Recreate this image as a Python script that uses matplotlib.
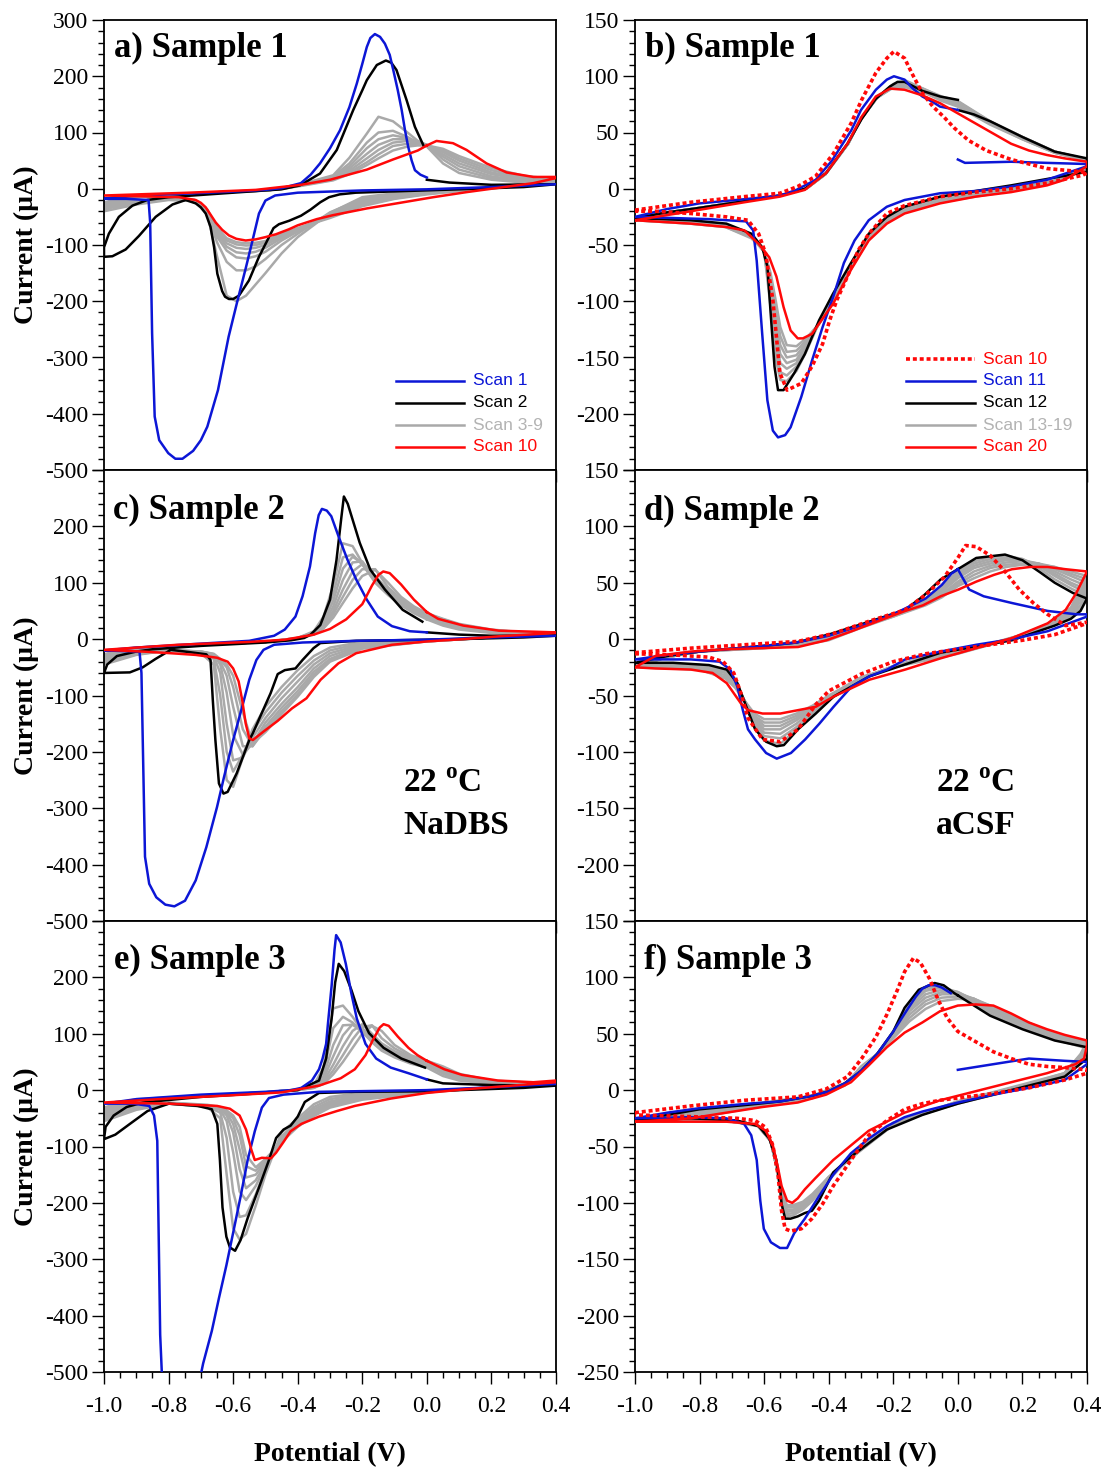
import matplotlib
matplotlib.use('Agg')
import matplotlib.pyplot as plt
from matplotlib.ticker import MultipleLocator, FuncFormatter

plt.rcParams['font.family'] = ['Liberation Serif', 'DejaVu Serif']
plt.rcParams['axes.unicode_minus'] = False
plt.rcParams['mathtext.fontset'] = 'custom'
plt.rcParams['mathtext.rm'] = 'Liberation Serif'
plt.rcParams['mathtext.bf'] = 'Liberation Serif:bold'

BLUE = '#0c16d6'
RED = '#ff0808'
BLACK = '#000000'
GRAY = '#a9a9a9'

# ---------------- Panel a (Sample 1, NaDBS) ----------------
A_S1 = [(0.4, 8), (0.2, 3), (0.0, -1), (-0.2, -3), (-0.4, -7), (-0.47, -12), (-0.5, -21), (-0.52, -44),
        (-0.54, -92), (-0.56, -139), (-0.587, -200), (-0.614, -263), (-0.647, -358), (-0.68, -423),
        (-0.70, -447), (-0.724, -466), (-0.757, -480), (-0.779, -480), (-0.801, -470), (-0.829, -447),
        (-0.843, -405), (-0.851, -257), (-0.857, -60), (-0.862, -20), (-0.93, -18), (-1.0, -18),
        (-0.95, -14), (-0.8, -10), (-0.6, -5), (-0.5, -2), (-0.45, 1), (-0.39, 10), (-0.36, 25),
        (-0.331, 45), (-0.30, 72), (-0.269, 104), (-0.24, 145), (-0.217, 187), (-0.20, 222),
        (-0.186, 252), (-0.175, 268), (-0.161, 275), (-0.145, 270), (-0.130, 258), (-0.115, 238),
        (-0.104, 211), (-0.09, 175), (-0.078, 140), (-0.068, 105), (-0.058, 75), (-0.047, 50),
        (-0.037, 33), (-0.02, 25), (0.0, 20)]
A_S2 = [(0.0, 16), (0.07, 11), (0.2, 7), (0.4, 8), (0.3, 3), (0.1, -1), (-0.117, -5), (-0.22, -7),
        (-0.27, -10), (-0.303, -15), (-0.33, -24), (-0.36, -37), (-0.39, -48), (-0.427, -57),
        (-0.458, -63), (-0.475, -70), (-0.489, -86), (-0.52, -121), (-0.551, -163), (-0.582, -190),
        (-0.60, -196), (-0.613, -196), (-0.625, -192), (-0.634, -182), (-0.649, -151), (-0.659, -104),
        (-0.67, -68), (-0.685, -44), (-0.70, -33), (-0.716, -26), (-0.747, -20), (-0.788, -28),
        (-0.84, -50), (-0.892, -84), (-0.933, -108), (-0.974, -120), (-1.0, -121), (-1.0, -104),
        (-0.985, -80), (-0.954, -50), (-0.912, -30), (-0.866, -20), (-0.8, -15), (-0.6, -7),
        (-0.45, -1), (-0.393, 6), (-0.331, 27), (-0.279, 69), (-0.228, 140), (-0.2, 175),
        (-0.186, 193), (-0.155, 220), (-0.127, 228), (-0.11, 224), (-0.094, 211), (-0.063, 158),
        (-0.037, 110), (-0.009, 75)]
A_S10 = [(0.0, 77), (0.03, 85), (0.081, 81), (0.123, 69), (0.185, 45), (0.247, 29), (0.33, 21),
         (0.4, 21), (0.4, 19), (0.33, 10), (0.226, 2), (0.123, -6), (0.02, -15), (-0.083, -25),
         (-0.186, -35), (-0.291, -47), (-0.341, -54), (-0.4, -65), (-0.427, -72), (-0.468, -81),
         (-0.5, -86), (-0.53, -90), (-0.561, -92), (-0.59, -89), (-0.613, -83), (-0.634, -73),
         (-0.654, -60), (-0.67, -46), (-0.685, -33), (-0.70, -25), (-0.716, -20), (-0.768, -15),
         (-0.84, -14), (-1.0, -12), (-0.737, -7), (-0.53, -2), (-0.468, 2), (-0.39, 7), (-0.3, 16),
         (-0.186, 34), (-0.105, 52), (-0.028, 68), (0.0, 77)]
A_GRAY_TAIL_X = [0.0, 0.05, 0.1, 0.2, 0.3, 0.4]
A_GRAY_TAIL_Y = [[75, 45, 28, 16, 11, 10], [78, 52, 34, 19, 13, 11], [77, 57, 40, 22, 14, 12],
                 [77, 61, 45, 26, 16, 13], [77, 65, 50, 29, 18, 14], [77, 68, 54, 33, 20, 15],
                 [77, 71, 58, 37, 23, 17]]
A_GRAY_LO_X = [0.4, 0.2, 0.0, -0.1, -0.2, -0.3, -0.4, -0.45, -0.5, -0.53, -0.56, -0.59, -0.62,
               -0.65, -0.68, -0.72, -0.8, -0.9, -1.0]
A_GRAY_LO_Y = [[9, 2, -4, -8, -15, -43, -86, -115, -150, -170, -190, -200, -190, -120, -45, -22, -20, -28, -40],
               [10, 2, -5, -10, -18, -42, -80, -100, -125, -138, -145, -145, -130, -95, -45, -22, -19, -26, -36],
               [11, 2, -6, -12, -21, -44, -76, -92, -112, -120, -124, -122, -110, -85, -42, -21, -18, -25, -33],
               [12, 2, -7, -14, -24, -46, -74, -88, -105, -112, -115, -113, -103, -80, -40, -21, -18, -24, -30],
               [13, 2, -8, -16, -27, -48, -72, -85, -100, -105, -107, -105, -97, -76, -39, -20, -17, -23, -28],
               [14, 2, -9, -17, -29, -50, -71, -82, -96, -100, -101, -99, -92, -72, -38, -20, -17, -22, -26],
               [15, 2, -10, -18, -31, -52, -70, -80, -93, -96, -97, -95, -88, -69, -37, -20, -17, -21, -25]]
A_GRAY_UP_X = [-1.0, -0.95, -0.9, -0.7, -0.5, -0.45, -0.39, -0.29, -0.24, -0.186, -0.15, -0.105,
               -0.06, -0.028, 0.0]
A_GRAY_UP_Y = [[-40, -22, -15, -8, -3, 0, 8, 24, 55, 98, 128, 120, 100, 85, 78],
               [-36, -21, -15, -8, -3, 0, 8, 22, 45, 82, 100, 103, 92, 82, 77],
               [-33, -20, -14, -8, -3, 0, 7, 20, 40, 72, 88, 95, 90, 82, 77],
               [-30, -19, -14, -8, -3, 0, 7, 19, 36, 62, 78, 88, 88, 81, 77],
               [-28, -18, -14, -8, -3, 0, 6, 17, 32, 54, 69, 82, 85, 80, 77],
               [-26, -17, -13, -8, -3, 0, 6, 16, 29, 47, 61, 76, 80, 79, 77],
               [-25, -16, -13, -8, -3, 0, 5, 15, 26, 42, 54, 68, 75, 77, 77]]

# ---------------- Panel c (Sample 2, NaDBS) ----------------
C_S1 = [(0.4, 6), (0.2, 3), (0.0, -1), (-0.218, -3), (-0.385, -6), (-0.473, -10), (-0.506, -19),
        (-0.528, -37), (-0.55, -72), (-0.572, -120), (-0.6, -179), (-0.628, -244), (-0.65, -298),
        (-0.683, -369), (-0.716, -428), (-0.749, -464), (-0.782, -474), (-0.81, -471), (-0.838, -458),
        (-0.86, -434), (-0.873, -386), (-0.878, -238), (-0.884, -60), (-0.89, -22), (-0.95, -21),
        (-1.0, -20), (-0.9, -15), (-0.7, -8), (-0.55, -3), (-0.473, 6), (-0.44, 17), (-0.407, 40),
        (-0.385, 76), (-0.362, 129), (-0.346, 188), (-0.335, 220), (-0.325, 231), (-0.31, 228),
        (-0.296, 218), (-0.274, 183), (-0.246, 141), (-0.219, 106), (-0.186, 70), (-0.152, 40),
        (-0.108, 23), (-0.053, 14), (0.0, 12)]
C_S2 = [(0.0, 12), (0.1, 8), (0.2, 6), (0.4, 6), (0.3, 3), (0.1, 0), (-0.1, -2), (-0.219, -3),
        (-0.33, -7), (-0.351, -16), (-0.385, -37), (-0.407, -52), (-0.44, -55), (-0.462, -62),
        (-0.484, -96), (-0.512, -132), (-0.539, -167), (-0.55, -179), (-0.589, -238), (-0.617, -271),
        (-0.63, -274), (-0.644, -256), (-0.655, -179), (-0.663, -108), (-0.67, -37), (-0.683, -27),
        (-0.749, -22), (-0.793, -19), (-0.84, -35), (-0.88, -50), (-0.92, -59), (-1.0, -60),
        (-0.99, -45), (-0.96, -30), (-0.9, -22), (-0.85, -18), (-0.7, -12), (-0.5, -6), (-0.42, -2),
        (-0.38, 2), (-0.36, 8), (-0.33, 25), (-0.30, 70), (-0.28, 140), (-0.265, 215), (-0.257, 253),
        (-0.245, 240), (-0.23, 212), (-0.208, 171), (-0.175, 123), (-0.13, 88), (-0.075, 52),
        (-0.014, 31)]
C_S10 = [(0.0, 48), (0.035, 36), (0.113, 24), (0.223, 15), (0.4, 12), (0.4, 11), (0.223, 5),
         (0.113, 0), (0.003, -4), (-0.108, -10), (-0.219, -25), (-0.274, -43), (-0.329, -72),
         (-0.373, -105), (-0.418, -123), (-0.462, -145), (-0.506, -164), (-0.539, -179), (-0.55, -176),
         (-0.561, -150), (-0.572, -108), (-0.583, -75), (-0.6, -52), (-0.617, -40), (-0.65, -33),
         (-0.716, -28), (-0.793, -25), (-0.882, -22), (-1.0, -19), (-0.771, -10), (-0.55, -5),
         (-0.44, -1), (-0.35, 8), (-0.3, 18), (-0.25, 35), (-0.2, 62), (-0.17, 95), (-0.15, 114),
         (-0.135, 120), (-0.115, 117), (-0.08, 97), (-0.04, 70), (0.0, 48)]
C_GRAY_TAIL_X = [0.0, 0.05, 0.1, 0.2, 0.3, 0.4]
C_GRAY_TAIL_Y = [[35, 24, 17, 11, 8, 7], [38, 27, 19, 12, 9, 8], [40, 29, 21, 13, 10, 9],
                 [42, 31, 23, 14, 10, 9], [44, 33, 25, 15, 11, 10], [45, 35, 26, 16, 12, 10],
                 [46, 36, 27, 17, 12, 11]]
C_GRAY_LO_X = [0.4, 0.2, 0.0, -0.2, -0.3, -0.35, -0.4, -0.45, -0.5, -0.54, -0.57, -0.6, -0.62,
               -0.64, -0.66, -0.7, -0.8, -0.9, -1.0]
C_GRAY_LO_Y = [[7, 3, -2, -5, -15, -30, -55, -85, -120, -160, -210, -262, -250, -160, -45, -25, -20, -28, -45],
               [8, 3, -3, -7, -20, -38, -65, -95, -130, -165, -205, -235, -200, -100, -35, -24, -20, -27, -42],
               [8, 3, -3, -9, -25, -45, -75, -105, -140, -175, -210, -215, -150, -60, -30, -23, -20, -26, -39],
               [9, 3, -4, -11, -30, -52, -85, -115, -148, -185, -205, -170, -95, -45, -28, -23, -20, -25, -36],
               [9, 3, -4, -13, -35, -58, -92, -122, -155, -190, -190, -120, -65, -40, -27, -22, -20, -24, -33],
               [10, 3, -4, -15, -38, -63, -98, -128, -160, -190, -160, -85, -50, -37, -27, -22, -20, -23, -30],
               [10, 3, -4, -17, -40, -67, -102, -133, -165, -185, -130, -65, -45, -35, -26, -22, -19, -22, -27]]
C_GRAY_UP_X = [-1.0, -0.95, -0.9, -0.7, -0.5, -0.4, -0.35, -0.32, -0.29, -0.26, -0.23, -0.2, -0.16,
               -0.12, -0.08, -0.04, 0.0]
C_GRAY_UP_Y = [[-45, -25, -18, -10, -5, 2, 14, 40, 95, 170, 165, 135, 100, 78, 60, 46, 35],
               [-42, -24, -17, -10, -5, 2, 12, 35, 80, 145, 150, 132, 102, 80, 62, 48, 38],
               [-39, -23, -17, -10, -5, 2, 11, 30, 68, 125, 146, 135, 105, 82, 64, 50, 40],
               [-36, -22, -16, -10, -5, 1, 10, 26, 58, 105, 136, 138, 108, 84, 66, 52, 42],
               [-33, -21, -16, -10, -5, 1, 9, 23, 50, 88, 120, 133, 112, 87, 68, 54, 44],
               [-30, -20, -15, -10, -5, 1, 9, 21, 44, 75, 105, 124, 124, 92, 71, 56, 45],
               [-27, -19, -15, -10, -5, 1, 8, 19, 38, 64, 90, 112, 123, 100, 75, 58, 46]]

# ---------------- Panel e (Sample 3, NaDBS) ----------------
E_S1 = [(0.4, 11), (0.2, 5), (0.0, 0), (-0.334, -3), (-0.444, -8), (-0.489, -14), (-0.511, -31),
        (-0.533, -73), (-0.555, -124), (-0.577, -189), (-0.6, -253), (-0.621, -311), (-0.644, -369),
        (-0.666, -427), (-0.693, -485), (-0.72, -560), (-0.77, -620), (-0.815, -560), (-0.821, -500),
        (-0.826, -434), (-0.835, -90), (-0.845, -45), (-0.86, -28), (-0.909, -24), (-1.0, -24),
        (-0.9, -16), (-0.7, -8), (-0.5, -3), (-0.42, 0), (-0.389, 4), (-0.356, 17), (-0.334, 37),
        (-0.323, 56), (-0.312, 82), (-0.306, 120), (-0.295, 185), (-0.286, 249), (-0.281, 275),
        (-0.267, 262), (-0.251, 224), (-0.234, 172), (-0.217, 127), (-0.19, 82), (-0.157, 56),
        (-0.112, 40), (-0.057, 30), (0.0, 19)]
E_S2 = [(0.0, 19), (0.05, 12), (0.2, 9), (0.4, 8), (0.3, 4), (0.0, -2), (-0.223, -3), (-0.334, -5),
        (-0.378, -21), (-0.4, -47), (-0.422, -63), (-0.444, -70), (-0.467, -85), (-0.489, -124),
        (-0.522, -176), (-0.555, -227), (-0.577, -266), (-0.594, -285), (-0.61, -279), (-0.621, -260),
        (-0.633, -208), (-0.641, -124), (-0.649, -60), (-0.666, -34), (-0.71, -28), (-0.799, -24),
        (-0.865, -37), (-0.92, -60), (-0.965, -79), (-1.0, -87), (-0.995, -65), (-0.97, -45),
        (-0.93, -30), (-0.88, -22), (-0.7, -12), (-0.5, -5), (-0.4, 0), (-0.334, 17), (-0.312, 56),
        (-0.295, 127), (-0.284, 191), (-0.273, 224), (-0.256, 211), (-0.234, 178), (-0.212, 140),
        (-0.179, 101), (-0.134, 75), (-0.079, 56), (-0.006, 40)]
E_S10 = [(0.0, 52), (0.054, 37), (0.109, 27), (0.22, 17), (0.33, 14), (0.4, 17), (0.4, 14),
         (0.22, 6), (0.109, 1), (0.0, -5), (-0.112, -15), (-0.223, -28), (-0.278, -37), (-0.334, -47),
         (-0.389, -60), (-0.422, -73), (-0.444, -92), (-0.467, -111), (-0.483, -121), (-0.511, -120),
         (-0.533, -124), (-0.544, -105), (-0.56, -70), (-0.58, -45), (-0.61, -33), (-0.65, -28),
         (-0.8, -24), (-1.0, -22), (-0.8, -15), (-0.6, -9), (-0.45, -4), (-0.334, 8), (-0.267, 21),
         (-0.223, 37), (-0.19, 62), (-0.168, 88), (-0.146, 111), (-0.134, 117), (-0.118, 114),
         (-0.09, 95), (-0.057, 75), (-0.029, 62), (0.0, 52)]
E_GRAY_TAIL_X = [0.0, 0.05, 0.1, 0.2, 0.3, 0.4]
E_GRAY_TAIL_Y = [[40, 25, 17, 11, 9, 9], [44, 29, 19, 12, 10, 10], [47, 32, 21, 13, 11, 10],
                 [49, 35, 23, 14, 12, 11], [51, 38, 25, 15, 12, 11], [52, 40, 27, 16, 13, 12],
                 [52, 42, 29, 17, 14, 13]]
E_GRAY_LO_X = [0.4, 0.2, 0.0, -0.2, -0.3, -0.35, -0.4, -0.45, -0.5, -0.53, -0.56, -0.58, -0.6,
               -0.62, -0.64, -0.68, -0.8, -0.9, -1.0]
E_GRAY_LO_Y = [[9, 5, -2, -5, -12, -25, -50, -75, -150, -205, -255, -265, -245, -150, -50, -30, -24, -35, -55],
               [10, 5, -2, -7, -16, -30, -55, -82, -140, -185, -222, -225, -180, -85, -40, -29, -24, -33, -50],
               [10, 5, -3, -9, -20, -34, -58, -86, -135, -170, -195, -180, -110, -55, -35, -28, -23, -31, -45],
               [11, 5, -3, -11, -23, -38, -61, -88, -130, -160, -174, -140, -75, -45, -33, -28, -23, -29, -41],
               [11, 5, -3, -13, -26, -41, -63, -90, -128, -150, -155, -105, -60, -40, -32, -27, -23, -28, -37],
               [12, 5, -4, -15, -29, -44, -64, -91, -125, -143, -135, -80, -50, -38, -31, -27, -23, -27, -34],
               [13, 5, -4, -17, -31, -46, -65, -92, -122, -137, -115, -65, -45, -36, -30, -26, -22, -26, -31]]
E_GRAY_UP_X = [-1.0, -0.95, -0.9, -0.7, -0.5, -0.4, -0.35, -0.32, -0.29, -0.26, -0.23, -0.2, -0.17,
               -0.14, -0.1, -0.05, 0.0]
E_GRAY_UP_Y = [[-55, -30, -20, -10, -4, 1, 9, 40, 145, 150, 130, 105, 85, 70, 58, 47, 40],
               [-50, -28, -19, -10, -4, 1, 8, 32, 110, 130, 120, 103, 86, 72, 60, 50, 44],
               [-45, -26, -18, -10, -4, 1, 7, 25, 80, 115, 116, 104, 88, 75, 63, 53, 47],
               [-41, -25, -18, -10, -4, 1, 6, 20, 60, 97, 117, 110, 92, 78, 66, 55, 49],
               [-37, -24, -17, -10, -4, 1, 5, 16, 45, 78, 105, 117, 100, 83, 69, 57, 51],
               [-34, -23, -17, -10, -4, 0, 4, 13, 35, 62, 90, 112, 115, 92, 74, 59, 52],
               [-31, -22, -16, -10, -4, 0, 4, 11, 28, 50, 75, 100, 114, 105, 80, 62, 52]]

# ---------------- Panel b (Sample 1, aCSF) ----------------
B_S10 = [(-1.0, -19), (-0.827, -12), (-0.661, -7), (-0.551, -4), (-0.496, 2), (-0.441, 11),
         (-0.386, 31), (-0.331, 58), (-0.298, 79), (-0.254, 103), (-0.22, 116), (-0.198, 122),
         (-0.165, 116), (-0.143, 103), (-0.11, 85), (-0.077, 73), (-0.044, 64), (-0.011, 54),
         (0.033, 43), (0.088, 34), (0.165, 26), (0.276, 18), (0.386, 15), (0.4, 14), (0.386, 12),
         (0.276, 5), (0.165, 0), (0.055, -3), (-0.055, -7), (-0.165, -15), (-0.22, -22), (-0.276, -40),
         (-0.309, -55), (-0.342, -78), (-0.375, -99), (-0.397, -117), (-0.419, -138), (-0.452, -158),
         (-0.485, -173), (-0.529, -179), (-0.551, -164), (-0.573, -99), (-0.595, -58), (-0.617, -40),
         (-0.65, -28), (-0.717, -25), (-0.827, -22), (-0.937, -20), (-1.0, -20)]
B_S11 = [(0.0, 26), (0.022, 23), (0.165, 24), (0.276, 23), (0.397, 22), (0.4, 20), (0.276, 8),
         (0.165, 2), (0.055, -2), (-0.055, -4), (-0.165, -10), (-0.22, -16), (-0.276, -28), (-0.32, -46),
         (-0.353, -66), (-0.386, -96), (-0.419, -123), (-0.452, -153), (-0.485, -185), (-0.518, -212),
         (-0.535, -219), (-0.557, -221), (-0.573, -215), (-0.59, -188), (-0.606, -129), (-0.623, -64),
         (-0.634, -37), (-0.656, -29), (-0.772, -27), (-1.0, -25), (-0.9, -18), (-0.8, -13),
         (-0.65, -9), (-0.55, -6), (-0.5, -1), (-0.44, 8), (-0.39, 25), (-0.33, 52), (-0.3, 70),
         (-0.254, 88), (-0.22, 97), (-0.198, 100), (-0.165, 97), (-0.143, 90), (-0.11, 82),
         (-0.077, 77), (-0.055, 73), (0.0, 70)]
B_S12 = [(0.0, 70), (0.05, 66), (0.1, 60), (0.2, 46), (0.3, 33), (0.4, 27), (0.4, 15), (0.165, 3),
         (-0.055, -7), (-0.165, -16), (-0.22, -25), (-0.276, -40), (-0.331, -66), (-0.386, -93),
         (-0.43, -117), (-0.474, -147), (-0.507, -164), (-0.54, -179), (-0.557, -179), (-0.568, -158),
         (-0.579, -114), (-0.59, -69), (-0.606, -52), (-0.639, -40), (-0.717, -31), (-0.827, -28),
         (-1.0, -26), (-0.9, -21), (-0.8, -17), (-0.661, -11), (-0.551, -6), (-0.474, 0), (-0.408, 14),
         (-0.342, 40), (-0.298, 62), (-0.254, 80), (-0.21, 91), (-0.187, 95), (-0.165, 95),
         (-0.11, 87), (-0.055, 82), (0.0, 79)]
B_S20 = [(-1.0, -28), (-0.827, -20), (-0.661, -12), (-0.551, -7), (-0.474, -1), (-0.408, 14),
         (-0.342, 40), (-0.298, 64), (-0.254, 82), (-0.21, 89), (-0.165, 88), (-0.11, 83),
         (-0.055, 76), (0.0, 67), (0.055, 58), (0.11, 49), (0.165, 40), (0.22, 34), (0.276, 30),
         (0.331, 27), (0.4, 24), (0.4, 20), (0.331, 8), (0.276, 3), (0.165, -3), (0.055, -7),
         (-0.055, -13), (-0.165, -22), (-0.22, -31), (-0.276, -46), (-0.331, -72), (-0.386, -102),
         (-0.43, -120), (-0.452, -129), (-0.48, -133), (-0.496, -133), (-0.518, -126), (-0.54, -105),
         (-0.562, -78), (-0.584, -61), (-0.617, -49), (-0.661, -37), (-0.717, -34), (-0.827, -31),
         (-1.0, -28)]
B_GRAY_UP_X = [-1.0, -0.9, -0.8, -0.66, -0.55, -0.47, -0.41, -0.34, -0.3, -0.25, -0.2, -0.16, -0.1,
               -0.05, 0.0, 0.1, 0.2, 0.3, 0.4]
B_GRAY_UP_Y = [[-27, -21, -17, -11, -6, 0, 13, 40, 62, 81, 93, 96, 88, 82, 78, 60, 46, 33, 26],
               [-27, -21, -17, -11, -6, 0, 13, 40, 62, 81, 93, 95, 88, 81, 77, 60, 46, 33, 26],
               [-27, -21, -17, -11, -6, 0, 13, 40, 62, 81, 92, 94, 87, 81, 77, 59, 46, 33, 26],
               [-27, -21, -17, -11, -6, 0, 13, 40, 62, 81, 92, 93, 87, 80, 76, 59, 45, 33, 26],
               [-28, -21, -17, -11, -6, 0, 13, 40, 62, 81, 91, 92, 86, 80, 75, 58, 45, 32, 25],
               [-28, -21, -18, -11, -6, 0, 13, 40, 63, 81, 90, 91, 85, 79, 74, 58, 44, 32, 25],
               [-28, -21, -18, -11, -6, 0, 13, 40, 63, 81, 90, 90, 85, 78, 73, 57, 44, 32, 25]]
B_GRAY_LO_X = [0.4, 0.3, 0.165, -0.055, -0.165, -0.22, -0.276, -0.331, -0.386, -0.43, -0.47, -0.5,
               -0.53, -0.55, -0.565, -0.58, -0.6, -0.64, -0.72, -0.83, -1.0]
B_GRAY_LO_Y = [[17, 7, 2, -8, -17, -27, -42, -68, -96, -119, -145, -162, -171, -170, -150, -105, -56, -41, -32, -29, -27],
               [17, 7, 1, -9, -18, -28, -43, -69, -97, -119, -143, -158, -166, -163, -140, -98, -56, -41, -32, -29, -27],
               [18, 7, 1, -10, -19, -28, -43, -69, -98, -119, -141, -155, -160, -155, -130, -92, -56, -42, -33, -30, -27],
               [18, 7, 0, -10, -19, -29, -44, -70, -99, -120, -139, -152, -155, -147, -122, -88, -56, -42, -33, -30, -28],
               [19, 7, 0, -11, -20, -29, -44, -70, -100, -120, -137, -148, -150, -139, -114, -84, -55, -43, -33, -30, -28],
               [19, 6, -1, -12, -21, -30, -45, -71, -101, -120, -135, -144, -145, -131, -106, -79, -55, -43, -34, -31, -28],
               [20, 6, -2, -12, -21, -30, -45, -71, -101, -120, -133, -140, -139, -123, -98, -75, -55, -44, -34, -31, -28]]

# ---------------- Panel d (Sample 2, aCSF) ----------------
D_S10 = [(-1.0, -12), (-0.827, -8), (-0.661, -5), (-0.495, -2), (-0.385, 5), (-0.274, 16),
         (-0.163, 26), (-0.097, 40), (-0.042, 55), (0.0, 72), (0.024, 83), (0.057, 82), (0.101, 74),
         (0.146, 60), (0.19, 44), (0.234, 32), (0.278, 22), (0.334, 12), (0.4, 15), (0.4, 14),
         (0.3, 4), (0.2, -1), (0.1, -5), (0.0, -9), (-0.1, -13), (-0.2, -20), (-0.3, -31), (-0.4, -46),
         (-0.44, -58), (-0.495, -80), (-0.55, -91), (-0.605, -89), (-0.65, -70), (-0.672, -48),
         (-0.694, -30), (-0.727, -20), (-0.771, -16), (-0.882, -14), (-1.0, -13)]
D_S11 = [(0.0, 62), (0.035, 44), (0.08, 38), (0.168, 32), (0.278, 25), (0.367, 22), (0.4, 22),
         (0.4, 20), (0.278, 7), (0.168, 0), (0.057, -5), (-0.053, -11), (-0.163, -18), (-0.219, -27),
         (-0.274, -33), (-0.329, -42), (-0.385, -60), (-0.429, -75), (-0.473, -89), (-0.517, -101),
         (-0.561, -106), (-0.594, -101), (-0.628, -89), (-0.65, -80), (-0.666, -63), (-0.683, -42),
         (-0.705, -27), (-0.738, -20), (-0.827, -18), (-1.0, -18), (-0.9, -14), (-0.8, -11),
         (-0.6, -6), (-0.5, -3), (-0.4, 3), (-0.3, 12), (-0.2, 22), (-0.1, 36), (-0.05, 48),
         (-0.02, 58), (0.0, 62)]
D_S12 = [(0.0, 62), (0.057, 72), (0.146, 75), (0.2, 70), (0.256, 59), (0.3, 50), (0.356, 41),
         (0.4, 36), (0.38, 25), (0.35, 18), (0.3, 12), (0.168, -1), (-0.053, -12), (-0.274, -33),
         (-0.385, -51), (-0.44, -66), (-0.495, -80), (-0.539, -94), (-0.561, -95), (-0.594, -91),
         (-0.628, -80), (-0.655, -60), (-0.683, -39), (-0.716, -27), (-0.771, -23), (-0.882, -21),
         (-1.0, -21), (-0.9, -15), (-0.8, -11), (-0.6, -6), (-0.5, -3), (-0.4, 4), (-0.3, 13),
         (-0.163, 26), (-0.108, 38), (-0.053, 53), (0.0, 62)]
D_S20 = [(-1.0, -25), (-0.937, -15), (-0.827, -11), (-0.716, -9), (-0.605, -8), (-0.495, -7),
         (-0.407, -1), (-0.329, 7), (-0.274, 13), (-0.219, 19), (-0.163, 25), (-0.108, 30),
         (-0.053, 38), (0.002, 44), (0.057, 51), (0.112, 57), (0.168, 62), (0.223, 64), (0.278, 64),
         (0.334, 62), (0.4, 60), (0.367, 41), (0.334, 26), (0.278, 14), (0.168, 1), (0.057, -8),
         (-0.053, -17), (-0.163, -27), (-0.274, -36), (-0.385, -51), (-0.44, -60), (-0.495, -63),
         (-0.55, -66), (-0.605, -66), (-0.65, -63), (-0.672, -57), (-0.694, -48), (-0.716, -39),
         (-0.76, -30), (-0.827, -27), (-0.937, -26), (-1.0, -25)]
D_GRAY_UP_X = [-1.0, -0.9, -0.8, -0.6, -0.5, -0.4, -0.3, -0.2, -0.1, -0.05, 0.0, 0.05, 0.1, 0.15,
               0.2, 0.25, 0.3, 0.35, 0.4]
D_GRAY_UP_Y = [[-22, -15, -11, -6, -3, 4, 13, 22, 35, 47, 60, 69, 73, 74, 71, 63, 53, 45, 38],
               [-22, -15, -11, -6, -3, 3, 13, 22, 34, 46, 58, 67, 71, 72, 71, 65, 56, 48, 41],
               [-23, -15, -11, -7, -4, 3, 12, 21, 33, 44, 56, 65, 69, 71, 70, 66, 58, 50, 44],
               [-23, -16, -11, -7, -4, 2, 12, 21, 32, 42, 54, 63, 67, 70, 70, 67, 60, 53, 47],
               [-24, -16, -11, -7, -5, 1, 11, 21, 31, 40, 51, 60, 65, 68, 69, 67, 62, 56, 50],
               [-24, -16, -11, -8, -5, 0, 11, 20, 31, 39, 49, 57, 63, 66, 67, 67, 64, 58, 53],
               [-25, -16, -11, -8, -6, -1, 10, 20, 30, 37, 47, 54, 60, 64, 66, 66, 64, 60, 56]]
D_GRAY_LO_X = [0.4, 0.38, 0.35, 0.3, 0.2, 0.1, 0.0, -0.1, -0.2, -0.3, -0.4, -0.45, -0.5, -0.55,
               -0.6, -0.63, -0.66, -0.69, -0.72, -0.8, -1.0]
D_GRAY_LO_Y = [[38, 27, 19, 13, 3, -4, -10, -16, -24, -36, -54, -67, -80, -93, -90, -78, -56, -35, -27, -23, -22],
               [41, 30, 21, 14, 3, -4, -10, -16, -24, -36, -53, -65, -78, -88, -86, -75, -55, -36, -28, -24, -22],
               [44, 33, 23, 14, 3, -4, -11, -17, -24, -35, -52, -63, -75, -84, -83, -73, -55, -37, -29, -24, -23],
               [47, 36, 24, 15, 4, -4, -11, -17, -24, -35, -52, -62, -72, -80, -80, -71, -55, -38, -30, -25, -23],
               [50, 39, 26, 15, 4, -5, -12, -18, -25, -34, -51, -61, -70, -77, -77, -69, -55, -40, -32, -26, -24],
               [53, 42, 27, 16, 4, -5, -12, -18, -25, -34, -51, -60, -68, -74, -74, -68, -55, -42, -34, -27, -24],
               [56, 45, 28, 16, 4, -5, -13, -19, -25, -34, -50, -59, -66, -71, -71, -66, -55, -43, -35, -27, -25]]

# ---------------- Panel f (Sample 3, aCSF) ----------------
F_S10 = [(-1.0, -20), (-0.827, -14), (-0.661, -9), (-0.496, -6), (-0.408, 1), (-0.342, 12),
         (-0.298, 28), (-0.254, 47), (-0.22, 67), (-0.187, 89), (-0.165, 105), (-0.138, 117),
         (-0.116, 113), (-0.088, 99), (-0.061, 80), (-0.033, 64), (0.0, 52), (0.055, 43), (0.11, 34),
         (0.165, 28), (0.22, 23), (0.276, 21), (0.331, 20), (0.4, 18), (0.4, 15), (0.331, 9),
         (0.22, 2), (0.11, -3), (0.0, -7), (-0.055, -9), (-0.11, -12), (-0.165, -17), (-0.22, -27),
         (-0.276, -40), (-0.331, -62), (-0.386, -85), (-0.419, -101), (-0.452, -114), (-0.485, -123),
         (-0.518, -125), (-0.535, -123), (-0.546, -107), (-0.557, -75), (-0.573, -49), (-0.595, -33),
         (-0.628, -27), (-0.684, -25), (-0.772, -24), (-0.882, -23), (-1.0, -22)]
F_S11 = [(0.0, 18), (0.11, 23), (0.22, 28), (0.331, 26), (0.4, 25), (0.4, 23), (0.331, 9), (0.22, 2),
         (0.11, -4), (0.0, -11), (-0.11, -19), (-0.165, -24), (-0.22, -32), (-0.276, -43),
         (-0.331, -56), (-0.386, -75), (-0.43, -94), (-0.474, -114), (-0.507, -127), (-0.529, -140),
         (-0.551, -140), (-0.579, -135), (-0.601, -123), (-0.612, -98), (-0.623, -62), (-0.64, -40),
         (-0.662, -30), (-0.717, -25), (-0.827, -24), (-1.0, -25), (-0.9, -20), (-0.8, -16),
         (-0.65, -12), (-0.55, -10), (-0.45, -5), (-0.4, -1), (-0.35, 6), (-0.3, 17), (-0.25, 32),
         (-0.2, 52), (-0.16, 70), (-0.13, 83), (-0.11, 90), (-0.09, 93), (-0.07, 93), (-0.05, 91),
         (-0.022, 86)]
F_S12 = [(0.0, 84), (0.05, 75), (0.1, 66), (0.2, 54), (0.3, 44), (0.4, 38), (0.4, 28), (0.331, 12),
         (0.22, 4), (0.11, -4), (0.0, -12), (-0.11, -22), (-0.22, -35), (-0.331, -59), (-0.386, -73),
         (-0.43, -98), (-0.452, -107), (-0.474, -109), (-0.496, -112), (-0.518, -114), (-0.535, -114),
         (-0.546, -101), (-0.551, -85), (-0.562, -62), (-0.584, -43), (-0.617, -32), (-0.684, -27),
         (-0.827, -25), (-1.0, -27), (-0.9, -22), (-0.8, -17), (-0.65, -13), (-0.55, -10),
         (-0.45, -5), (-0.4, -1), (-0.35, 6), (-0.3, 17), (-0.25, 32), (-0.2, 52), (-0.165, 73),
         (-0.121, 89), (-0.072, 95), (-0.044, 93), (-0.011, 86), (0.0, 84)]
F_S20 = [(-1.0, -28), (-0.827, -25), (-0.717, -20), (-0.606, -15), (-0.496, -11), (-0.408, -4),
         (-0.331, 7), (-0.276, 22), (-0.22, 38), (-0.165, 51), (-0.11, 60), (-0.055, 70), (0.0, 75),
         (0.055, 76), (0.11, 75), (0.165, 68), (0.22, 60), (0.276, 54), (0.331, 49), (0.4, 44),
         (0.4, 40), (0.391, 28), (0.364, 23), (0.276, 15), (0.165, 7), (0.055, -1), (-0.055, -9),
         (-0.165, -20), (-0.276, -36), (-0.386, -62), (-0.441, -78), (-0.474, -88), (-0.496, -96),
         (-0.513, -100), (-0.529, -98), (-0.546, -85), (-0.557, -69), (-0.573, -49), (-0.595, -36),
         (-0.628, -30), (-0.717, -28), (-0.827, -28), (-1.0, -28)]
F_GRAY_UP_X = [-1.0, -0.8, -0.6, -0.45, -0.35, -0.3, -0.25, -0.2, -0.15, -0.1, -0.05, 0.0, 0.05,
               0.1, 0.2, 0.3, 0.4]
F_GRAY_UP_Y = [[-27, -18, -11, -5, 6, 18, 32, 52, 76, 90, 92, 86, 77, 68, 55, 45, 37],
               [-27, -19, -12, -5, 6, 18, 32, 51, 74, 88, 91, 87, 79, 70, 57, 46, 38],
               [-27, -20, -12, -6, 6, 18, 32, 50, 72, 85, 89, 87, 80, 72, 58, 47, 39],
               [-28, -21, -13, -6, 5, 19, 32, 49, 70, 82, 87, 86, 81, 73, 60, 48, 40],
               [-28, -22, -13, -6, 5, 19, 32, 48, 67, 79, 85, 85, 81, 74, 61, 49, 41],
               [-28, -23, -14, -7, 5, 20, 32, 47, 64, 76, 82, 83, 81, 75, 62, 50, 42],
               [-28, -24, -14, -7, 4, 21, 32, 46, 61, 72, 79, 81, 80, 75, 62, 50, 43]]
F_GRAY_LO_X = [0.4, 0.38, 0.33, 0.2, 0.0, -0.2, -0.33, -0.4, -0.45, -0.48, -0.51, -0.53, -0.545,
               -0.56, -0.58, -0.62, -0.7, -0.85, -1.0]
F_GRAY_LO_Y = [[37, 26, 12, 2, -12, -29, -58, -80, -98, -106, -111, -112, -100, -70, -45, -31, -27, -26, -27],
               [38, 27, 13, 2, -11, -29, -58, -79, -97, -104, -109, -110, -98, -70, -45, -31, -27, -26, -27],
               [39, 28, 13, 3, -11, -29, -58, -79, -96, -103, -107, -108, -96, -70, -45, -31, -27, -26, -28],
               [40, 29, 14, 3, -11, -30, -59, -78, -95, -102, -106, -106, -94, -70, -45, -31, -28, -27, -28],
               [41, 30, 14, 4, -10, -30, -59, -78, -94, -101, -104, -104, -92, -70, -45, -31, -28, -27, -28],
               [42, 31, 15, 4, -10, -30, -60, -77, -93, -100, -103, -103, -90, -70, -45, -31, -28, -27, -28],
               [43, 32, 15, 5, -10, -31, -60, -77, -92, -99, -102, -102, -88, -70, -45, -32, -28, -27, -28]]

LEGEND_LEFT = ['Scan 1', 'Scan 2', 'Scan 3-9', 'Scan 10']
LEGEND_RIGHT = ['Scan 10', 'Scan 11', 'Scan 12', 'Scan 13-19', 'Scan 20']
X_TICKS = [-1.0, -0.8, -0.6, -0.4, -0.2, 0.0, 0.2, 0.4]

# ---------------- figure ----------------
FW, FH = 1106, 1468
fig = plt.figure(figsize=(FW / 100, FH / 100), dpi=100)

def make_ax(left_px, top_px, bottom_px, width_px=452):
    return fig.add_axes([left_px / FW, 1 - bottom_px / FH, width_px / FW, (bottom_px - top_px) / FH])

ROWS = [(20, 470), (470, 921), (921, 1372)]
axes = {}
for i, key in enumerate(['a', 'c', 'e']):
    axes[key] = make_ax(104, *ROWS[i])
for i, key in enumerate(['b', 'd', 'f']):
    axes[key] = make_ax(635, *ROWS[i])

LW = 1.8

def xy(pts):
    return [p[0] for p in pts], [p[1] for p in pts]

def draw_gray_cycle(ax, tx, tys, lx, lys, ux, uys):
    for ty, ly, uy in zip(tys, lys, uys):
        ax.plot(list(tx) + list(lx) + list(ux), list(ty) + list(ly) + list(uy),
                color=GRAY, lw=LW, solid_joinstyle='round', zorder=2)

def draw_gray_loop(ax, ux, uys, lx, lys):
    for uy, ly in zip(uys, lys):
        ax.plot(list(ux) + list(lx), list(uy) + list(ly), color=GRAY, lw=LW,
                solid_joinstyle='round', zorder=2)

def draw(ax, pts, color, z, dotted=False):
    x, y = xy(pts)
    if dotted:
        ax.plot(x, y, color=color, lw=2.6, ls=(0, (1.1, 0.8)), zorder=z)
    else:
        ax.plot(x, y, color=color, lw=LW, solid_joinstyle='round', zorder=z)

# left column
draw_gray_cycle(axes['a'], A_GRAY_TAIL_X, A_GRAY_TAIL_Y, A_GRAY_LO_X, A_GRAY_LO_Y, A_GRAY_UP_X, A_GRAY_UP_Y)
draw(axes['a'], A_S2, BLACK, 3); draw(axes['a'], A_S1, BLUE, 4); draw(axes['a'], A_S10, RED, 5)
draw_gray_cycle(axes['c'], C_GRAY_TAIL_X, C_GRAY_TAIL_Y, C_GRAY_LO_X, C_GRAY_LO_Y, C_GRAY_UP_X, C_GRAY_UP_Y)
draw(axes['c'], C_S2, BLACK, 3); draw(axes['c'], C_S1, BLUE, 4); draw(axes['c'], C_S10, RED, 5)
draw_gray_cycle(axes['e'], E_GRAY_TAIL_X, E_GRAY_TAIL_Y, E_GRAY_LO_X, E_GRAY_LO_Y, E_GRAY_UP_X, E_GRAY_UP_Y)
draw(axes['e'], E_S2, BLACK, 3); draw(axes['e'], E_S1, BLUE, 4); draw(axes['e'], E_S10, RED, 5)

# right column
draw_gray_loop(axes['b'], B_GRAY_UP_X, B_GRAY_UP_Y, B_GRAY_LO_X, B_GRAY_LO_Y)
draw(axes['b'], B_S12, BLACK, 3); draw(axes['b'], B_S11, BLUE, 4); draw(axes['b'], B_S20, RED, 5)
draw(axes['b'], B_S10, RED, 6, dotted=True)
draw_gray_loop(axes['d'], D_GRAY_UP_X, D_GRAY_UP_Y, D_GRAY_LO_X, D_GRAY_LO_Y)
draw(axes['d'], D_S12, BLACK, 3); draw(axes['d'], D_S11, BLUE, 4); draw(axes['d'], D_S20, RED, 5)
draw(axes['d'], D_S10, RED, 6, dotted=True)
draw_gray_loop(axes['f'], F_GRAY_UP_X, F_GRAY_UP_Y, F_GRAY_LO_X, F_GRAY_LO_Y)
draw(axes['f'], F_S12, BLACK, 3); draw(axes['f'], F_S11, BLUE, 4); draw(axes['f'], F_S20, RED, 5)
draw(axes['f'], F_S10, RED, 6, dotted=True)

def yfmt(hidden):
    def f(v, pos):
        for h in hidden:
            if abs(v - h) < 1e-6:
                return ''
        return '%d' % round(v)
    return FuncFormatter(f)

TICK_FS = 17
for key, ax in axes.items():
    ax.set_xlim(-1.0, 0.4)
    left = key in 'ace'
    if left:
        ax.set_ylim(-500, 300)
        ax.yaxis.set_major_locator(MultipleLocator(100))
        ax.yaxis.set_minor_locator(MultipleLocator(20))
        ax.yaxis.set_major_formatter(yfmt([] if key == 'a' else [300]))
    else:
        ax.set_ylim(-250, 150)
        ax.yaxis.set_major_locator(MultipleLocator(50))
        ax.yaxis.set_minor_locator(MultipleLocator(10))
        ax.yaxis.set_major_formatter(yfmt([] if key == 'f' else [-250]))
    ax.set_xticks(X_TICKS)
    ax.xaxis.set_minor_locator(MultipleLocator(0.05))
    ax.xaxis.set_major_formatter(FuncFormatter(lambda v, p: '%.1f' % v))
    ax.tick_params(which='major', direction='out', length=8.6, width=1.0, labelsize=TICK_FS,
                   top=False, right=False, pad=3.0)
    ax.tick_params(which='minor', direction='out', length=4.5, width=1.0, top=False, right=False)
    ax.tick_params(axis='x', which='major', pad=8.5)
    if key not in 'ef':
        ax.tick_params(axis='x', labelbottom=False)
    for sp in ax.spines.values():
        sp.set_linewidth(1.3)
    for lab in ax.get_xticklabels() + ax.get_yticklabels():
        lab.set_family('Liberation Serif')

# panel titles
TITLES = {'a': ('a) Sample 1', 0.022, 0.918), 'b': ('b) Sample 1', 0.023, 0.918),
          'c': ('c) Sample 2', 0.021, 0.891), 'd': ('d) Sample 2', 0.020, 0.890),
          'e': ('e) Sample 3', 0.023, 0.893), 'f': ('f) Sample 3', 0.020, 0.893)}
for key, (t, x, y) in TITLES.items():
    axes[key].text(x, y, t, transform=axes[key].transAxes, fontsize=25, fontweight='bold',
                   family='Liberation Serif', va='baseline', ha='left', zorder=10)

# condition annotations
for key, name, x in [('c', 'NaDBS', 0.662), ('d', 'aCSF', 0.665)]:
    ax = axes[key]
    ax.text(x, 0.285, r'22 $^{\mathbf{o}}$C', transform=ax.transAxes, fontsize=24,
            fontweight='bold', family='Liberation Serif', va='baseline', ha='left')
    ax.text(x, 0.192, name, transform=ax.transAxes, fontsize=24, fontweight='bold',
            family='Liberation Serif', va='baseline', ha='left')

# legends (drawn manually to colour the labels)
def legend(ax, labels, colors, styles, ys, x0, x1, xt):
    for lab, c, s, y in zip(labels, colors, styles, ys):
        if s == 'dotted':
            ax.plot([x0, x1], [y, y], transform=ax.transAxes, color=c, lw=2.6,
                    ls=(0, (1.1, 0.8)), clip_on=False, zorder=10)
        else:
            ax.plot([x0, x1], [y, y], transform=ax.transAxes, color=c, lw=LW,
                    clip_on=False, zorder=10)
        tc = '#b3b3b3' if c == GRAY else c
        ax.text(xt, y, lab, transform=ax.transAxes, color=tc, fontsize=12.5,
                family='Liberation Sans', va='center', ha='left', zorder=10)

legend(axes['a'], LEGEND_LEFT, [BLUE, BLACK, GRAY, RED], ['-'] * 4,
       [0.198, 0.149, 0.100, 0.052], 0.647, 0.796, 0.816)
legend(axes['b'], LEGEND_RIGHT, [RED, BLUE, BLACK, GRAY, RED], ['dotted', '-', '-', '-', '-'],
       [0.246, 0.198, 0.149, 0.100, 0.052], 0.600, 0.752, 0.769)

# axis labels
for yc in [245, 695.5, 1146.5]:
    fig.text(26 / FW, 1 - yc / FH, 'Current (\u00b5A)', rotation=90, ha='center', va='center',
             fontsize=20, fontweight='bold', family='Liberation Serif')
for xc in [330, 861]:
    fig.text(xc / FW, 1 - 1461 / FH, 'Potential (V)', ha='center', va='baseline', fontsize=20,
             fontweight='bold', family='Liberation Serif')

fig.savefig('out.png', dpi=100, facecolor='white')
